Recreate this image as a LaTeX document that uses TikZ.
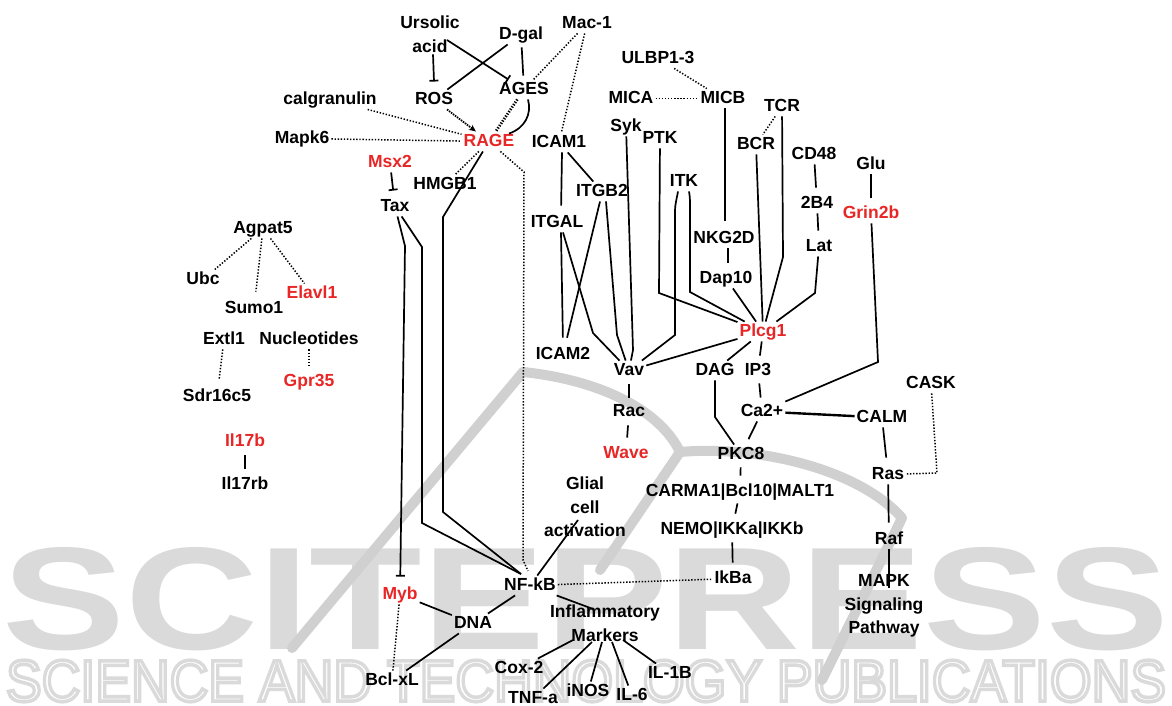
\documentclass[tikz,border=0pt]{standalone}
\usepackage{fontspec}
\setmainfont{Liberation Sans}
\usepackage{graphicx}
\usetikzlibrary{arrows.meta,calc}
\definecolor{myred}{RGB}{232,38,38}
\definecolor{wmgray}{RGB}{218,218,218}
\definecolor{swgray}{RGB}{208,208,208}
\newcommand\nf{\fontsize{17.5}{23.5}\selectfont\bfseries}
\begin{document}
\begin{tikzpicture}[x=1pt,y=-1pt,
 nd/.style={font=\nf, inner sep=2pt, text height=12.5pt, text depth=3pt, yshift=-1.5pt},
 rd/.style={nd,text=myred},
 ml/.style={font=\nf, inner sep=2pt, align=center},
 ln/.style={line width=1.7pt},
 dl/.style={line width=1.5pt, dash pattern=on 1.4pt off 1.7pt},
 inh/.style={ln,-{Bar[width=9pt,line width=1.7pt]}},
 wm/.style={text=wmgray, inner sep=0pt},
 sw/.style={swgray, line width=10pt, line cap=round, line join=round}]
\fill[white] (0,0) rectangle (1172,706);
\useasboundingbox (0,0) rectangle (1172,706);
% watermark
\node[wm] (wmA) at (586,599) {\resizebox{1165pt}{102pt}{\bfseries SCITEPRESS}};
\node[wm] (wmB) at (586,681) {\resizebox{1160pt}{41pt}{\special{pdf:literal direct 1 Tr 0.6 w}SCIENCE AND TECHNOLOGY PUBLICATIONS\special{pdf:literal direct 0 Tr}}};
\draw[sw] (292,648) -- (523,372) .. controls (600,380) and (660,410) .. (680,452);
\draw[sw] (680,452) .. controls (760,445) and (860,470) .. (902,518) -- (822,680);
\draw[sw] (680,452) -- (600,570);
% nodes
\node[ml] (ua) at (430,34) {Ursolic\\acid};
\node[nd] (dgal) at (521,33) {D-gal};
\node[nd] (mac) at (587,22) {Mac-1};
\node[nd] (ros) at (434,98) {ROS};
\node[nd] (ages) at (524,88) {AGES};
\node[nd] (calg) at (330,98) {calgranulin};
\node[nd] (mapk6) at (302,137) {Mapk6};
\node[rd] (rage) at (489,140) {RAGE};
\node[rd] (msx2) at (390,161) {Msx2};
\node[nd] (hmgb) at (445,183) {HMGB1};
\node[nd] (tax) at (395,205) {Tax};
\node[nd] (icam1) at (559,141) {ICAM1};
\node[nd] (ulbp) at (658,57) {ULBP1-3};
\node[nd] (mica) at (631,97) {MICA};
\node[nd] (micb) at (723,97) {MICB};
\node[nd] (tcr) at (782,105) {TCR};
\node[nd] (syk) at (626,125) {Syk};
\node[nd] (ptk) at (660,137) {PTK};
\node[nd] (bcr) at (756,143) {BCR};
\node[nd] (cd48) at (814,153) {CD48};
\node[nd] (glu) at (871,163) {Glu};
\node[nd] (itk) at (684,180) {ITK};
\node[nd] (itgb2) at (602,190) {ITGB2};
\node[nd] (b24) at (817,202) {2B4};
\node[rd] (grin) at (871,212) {Grin2b};
\node[nd] (itgal) at (557,221) {ITGAL};
\node[nd] (nkg) at (724,237) {NKG2D};
\node[nd] (lat) at (819,245) {Lat};
\node[nd] (dap) at (726,277) {Dap10};
\node[rd] (plcg) at (763,330) {Plcg1};
\node[nd] (icam2) at (563,353) {ICAM2};
\node[nd] (vav) at (629,369) {Vav};
\node[nd] (dag) at (715,369) {DAG};
\node[nd] (ip3) at (758,369) {IP3};
\node[nd] (cask) at (931,382) {CASK};
\node[nd] (rac) at (629,410) {Rac};
\node[nd] (ca) at (762,410) {Ca2+};
\node[nd] (calm) at (882,416) {CALM};
\node[rd] (wave) at (626,452) {Wave};
\node[nd] (pkc) at (741,453) {PKC8};
\node[nd] (ras) at (888,473) {Ras};
\node[ml] (glial) at (585,507) {Glial\\cell\\activation};
\node[nd] (carma) at (740,490) {CARMA1|Bcl10|MALT1};
\node[nd] (nemo) at (732,528) {NEMO|IKKa|IKKb};
\node[nd] (raf) at (889,538) {Raf};
\node[nd] (nfkb) at (530,584) {NF-kB};
\node[nd] (ikba) at (733,577) {IkBa};
\node[ml] (mapk) at (884,606) {MAPK\\Signaling\\Pathway};
\node[rd] (myb) at (400,593) {Myb};
\node[nd] (dna) at (473,622) {DNA};
\node[ml] (infl) at (605,623) {Inflammatory\\Markers};
\node[nd] (cox) at (519,667) {Cox-2};
\node[nd] (bcl) at (392,679) {Bcl-xL};
\node[nd] (il1b) at (670,672) {IL-1B};
\node[nd] (tnf) at (533,697) {TNF-a};
\node[nd] (inos) at (588,690) {iNOS};
\node[nd] (il6) at (632,694) {IL-6};
\node[nd] (agpat) at (263,227) {Agpat5};
\node[nd] (ubc) at (203,278) {Ubc};
\node[rd] (elavl) at (312,292) {Elavl1};
\node[nd] (sumo) at (254,307) {Sumo1};
\node[nd] (extl) at (224,338) {Extl1};
\node[nd] (nucl) at (309,338) {Nucleotides};
\node[rd] (gpr) at (309,380) {Gpr35};
\node[nd] (sdr) at (217,395) {Sdr16c5};
\node[rd] (il17b) at (245,440) {Il17b};
\node[nd] (il17rb) at (245,483) {Il17rb};
% free ends
\coordinate (nfin) at (521,574);
\coordinate (nfdot) at (528,571);
\coordinate (glend) at (578,520);
\coordinate (inflin) at (593,609);
\coordinate (mk1) at (573,640);
\coordinate (mk2) at (592,642);
\coordinate (mk3) at (602,642);
\coordinate (mk4) at (612,642);
\coordinate (mk5) at (623,640);
\coordinate (mapkin) at (889,588);
% solid connectors
\draw[inh] ([xshift=3pt]ua.south) -- ([yshift=8pt]ros.north);
\draw[inh] ([xshift=17pt,yshift=-6pt]ua.center) -- (ages);
\draw[ln] (dgal) -- (ros);
\draw[ln, shorten <=3pt, shorten >=4pt] (dgal) -- (ages);
\draw[ln] ([xshift=4pt]ages.south) .. controls (532,114) and (525,128) .. ([xshift=20pt,yshift=-2pt]rage.north);
\draw[ln] (rage) -- (443,217) -- (443,512) -- (nfin);
\draw[inh, shorten >=8pt] (tax) -- (405,246) -- (myb);
\draw[ln] (tax) -- (422,247) -- (422,523) -- (nfin);
\draw[inh, shorten >=6pt] (msx2) -- (tax);
\draw[ln] (nfkb) -- (glend);
\draw[ln] (nfkb) -- (dna);
\draw[ln] (myb) -- (dna);
\draw[ln] (dna) -- (bcl);
\draw[ln] (nfkb) -- (inflin);
\foreach \a/\b in {mk1/cox, mk2/tnf, mk3/inos, mk4/il6, mk5/il1b} \draw[ln] (\a) -- (\b);
\draw[ln, shorten >=7pt] ([xshift=3pt]icam1.south) -- ([xshift=4pt]itgal.north);
\draw[ln] (icam1) -- (itgb2);
\draw[ln, shorten >=7pt] ([xshift=4pt]itgal.south) -- (icam2.north);
\draw[ln] ([xshift=6pt]itgal.south) -- (593,333) -- (vav);
\draw[ln, shorten >=7pt] ([xshift=-2pt]itgb2.south) -- (icam2);
\draw[ln] ([xshift=4pt]itgb2.south) -- (617,335) -- (vav);
\draw[ln] (syk) -- (633,350) -- (vav);
\draw[ln] (ptk) -- (659,293) -- (plcg);
\draw[ln] ([xshift=-6pt]itk.south) to[out=-100,in=90] (675,212) -- (675,335) -- (vav);
\draw[ln] ([xshift=5pt]itk.south) to[out=-80,in=90] (690,212) -- (690,292) -- (plcg);
\draw[ln, shorten >=8pt] ([xshift=2pt]micb.south) -- ([xshift=1pt]nkg.north);
\draw[ln, shorten >=6pt] ([xshift=4pt]nkg.south) -- ([xshift=2pt]dap.north);
\draw[ln] (dap) -- (plcg);
\draw[ln] (bcr) -- (plcg);
\draw[ln] (tcr) -- (783,257) -- (plcg);
\draw[ln] (lat) -- (815,293) -- (plcg);
\draw[ln, shorten >=6pt] (cd48) -- (b24);
\draw[ln, shorten >=6pt] (b24) -- (lat);
\draw[ln, shorten >=6pt] (glu) -- (grin);
\draw[ln] (grin) -- (878,362) -- (ca);
\draw[ln] (plcg) -- (vav);
\draw[ln] (plcg) -- (dag);
\draw[ln, shorten >=5pt] (plcg) -- (ip3);
\draw[ln, shorten <=3pt, shorten >=4pt] (ip3) -- (ca);
\draw[ln] (dag) -- (715,417) -- (pkc);
\draw[ln, shorten >=6pt] (ca) -- (pkc);
\draw[ln, shorten <=4pt, shorten >=4pt] (vav) -- (rac);
\draw[ln, shorten <=4pt, shorten >=6pt] (rac) -- (wave);
\draw[line width=2.4pt] (ca) -- (calm);
\draw[ln, shorten >=7pt] (calm) -- (ras);
\draw[ln, shorten >=7pt] (ras) -- (raf);
\draw[ln] (raf) -- (mapkin);
\draw[ln, shorten <=3pt, shorten >=6pt] (pkc) -- (carma);
\draw[ln, shorten <=2pt, shorten >=6pt] (carma) -- (nemo);
\draw[ln, shorten <=3pt, shorten >=6pt] (nemo) -- (ikba);
\draw[ln, shorten <=4pt, shorten >=6pt] (il17b) -- (il17rb);
% arrows
\draw[line width=1.8pt, dash pattern=on 1.5pt off 1pt, -{Stealth[length=7pt,width=6pt]}] (ros) -- (rage);
\draw[line width=2.8pt, dash pattern=on 1.3pt off 1.5pt] (ages) -- (rage);
% dotted connectors
\draw[dl] (calg) -- (rage);
\draw[dl] (mapk6) -- (rage);
\draw[dl] (mac) -- (ages);
\draw[dl] (mac) -- (icam1);
\draw[dl] (rage) -- (hmgb);
\draw[dl] (rage) -- (524,172) -- (523,560) -- (nfdot);
\draw[dl] (ulbp) -- (micb);
\draw[dl] (mica) -- (micb);
\draw[dl] (tcr) -- (bcr);
\draw[dl] (cask) -- (937,473) -- (ras);
\draw[dl] (nfkb) -- (ikba);
\draw[dl] (myb) -- (bcl);
\draw[dl] (agpat) -- (ubc);
\draw[dl, shorten >=7pt] (agpat) -- (sumo);
\draw[dl] (agpat) -- (elavl);
\draw[dl, shorten >=7pt] (extl) -- (sdr);
\draw[dl, shorten >=5pt] (nucl) -- (gpr);
\end{tikzpicture}
\end{document}
